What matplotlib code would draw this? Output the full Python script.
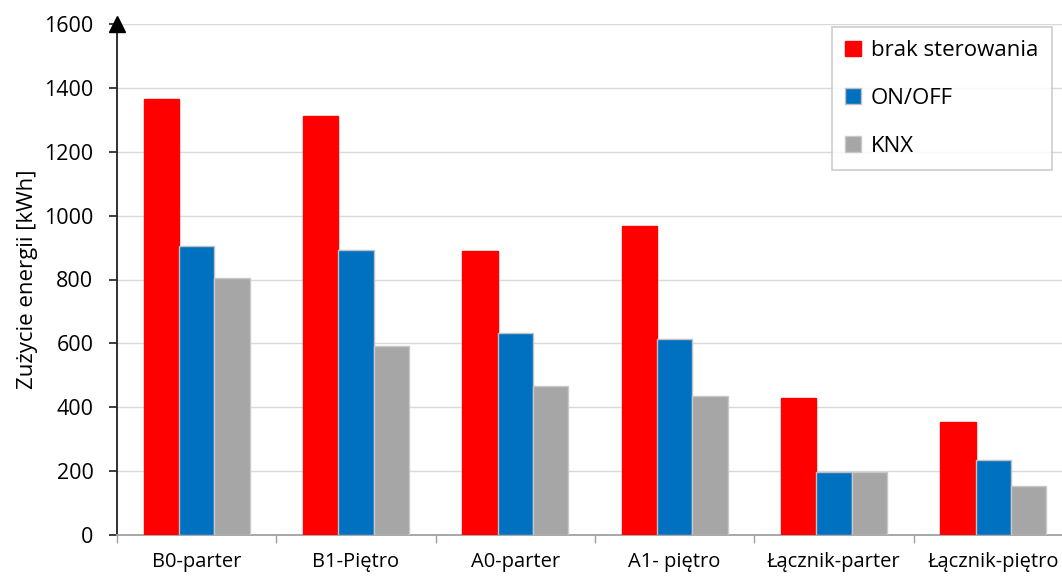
import matplotlib
matplotlib.use("Agg")
import matplotlib.pyplot as plt
import numpy as np

categories = ["B0-parter", "B1-Piętro", "A0-parter", "A1- piętro", "Łącznik-parter", "Łącznik-piętro"]
brak_sterowania = [1366, 1312, 889, 967, 429, 354]
on_off = [905, 892, 632, 613, 197, 235]
knx = [804, 592, 466, 435, 197, 153]
series_names = ["brak sterowania", "ON/OFF", "KNX"]
colors = ["#ff0000", "#0070c0", "#a6a6a6"]
yticks = [0, 200, 400, 600, 800, 1000, 1200, 1400, 1600]

plt.rcParams["font.family"] = ["Open Sans", "DejaVu Sans"]

fig = plt.figure(figsize=(10.62, 5.77), dpi=100)
ax = fig.add_axes([117 / 1062, 1 - 535 / 577, (1073 - 117) / 1062, (535 - 24) / 577])

x = np.arange(len(categories))
w = 0.222
series = [brak_sterowania, on_off, knx]
edges = ["#ff0000", "#c0c0c0", "#c8c8c8"]
handles = []
for i, (vals, c, ec) in enumerate(zip(series, colors, edges)):
    b = ax.bar(x + (i - 1) * w, vals, w, color=c, edgecolor=ec, linewidth=1.0,
               label=series_names[i], zorder=3)
    handles.append(b)

ax.set_xlim(-0.5, len(categories) - 0.5)
ax.set_ylim(0, 1600)
ax.set_yticks(yticks)
ax.set_yticklabels([str(t) for t in yticks], fontsize=15.5)
ax.yaxis.grid(True, color="#d9d9d9", linewidth=1.0, zorder=0)
ax.set_axisbelow(True)

ax.set_xticks(x)
ax.set_xticklabels(categories, fontsize=14.5)
ax.tick_params(axis="x", which="major", length=0, pad=12)
ax.set_xticks(np.arange(len(categories) + 1) - 0.5, minor=True)
ax.tick_params(axis="x", which="minor", length=6, color="#a0a0a0", width=1)
ax.tick_params(axis="y", length=6, width=1.2, color="#202020", pad=11)

for s in ["top", "right"]:
    ax.spines[s].set_visible(False)
ax.spines["left"].set_color("#202020")
ax.spines["left"].set_linewidth(1.3)
ax.spines["bottom"].set_color("#a0a0a0")
ax.spines["bottom"].set_linewidth(1.3)

# arrow head on the value axis
ax.plot([0], [1], marker="^", markersize=11, color="black", transform=ax.transAxes,
        clip_on=False, zorder=5)

ax.set_ylabel("Zużycie energii [kWh]", fontsize=16, labelpad=4)

leg = ax.legend(handles=handles, labels=series_names, loc="upper left",
                bbox_to_anchor=(832 / 1062, 1 - 27 / 577), bbox_transform=fig.transFigure,
                fontsize=16, frameon=True, fancybox=False, edgecolor="#c0c0c0",
                handlelength=0.7, handleheight=0.7, handletextpad=0.45,
                labelspacing=1.2, borderpad=0.6, borderaxespad=0)
leg.get_frame().set_linewidth(1.2)

fig.savefig("out.png", dpi=100)
